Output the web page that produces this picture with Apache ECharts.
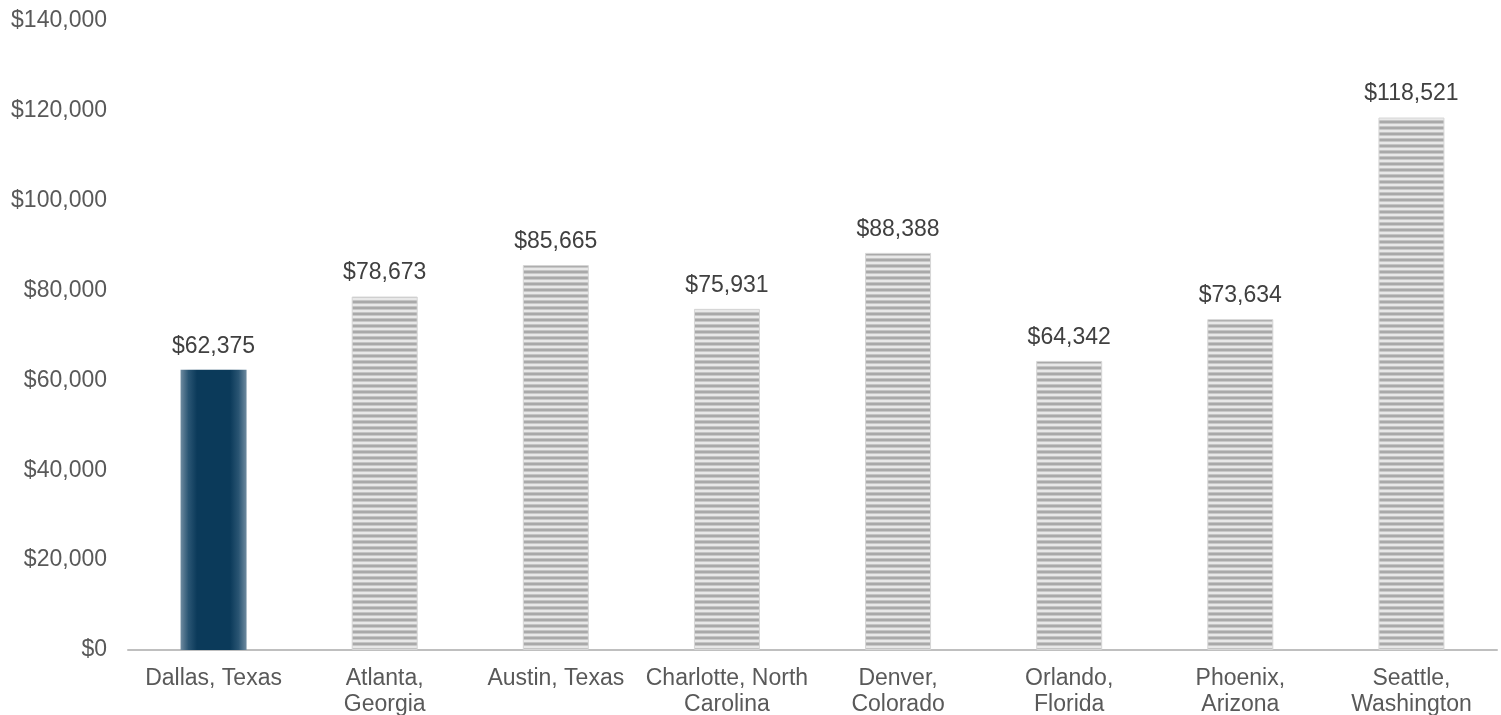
<!DOCTYPE html>
<html>
<head>
<meta charset="utf-8">
<script src="https://cdn.jsdelivr.net/npm/echarts@6/dist/echarts.min.js"></script>
<style>
html,body{margin:0;padding:0;background:#fff;}
#chart{width:1501px;height:715px;}
</style>
</head>
<body>
<div id="chart"></div>
<script>
const categories = ["Dallas, Texas", "Atlanta,\nGeorgia", "Austin, Texas", "Charlotte, North\nCarolina", "Denver,\nColorado", "Orlando,\nFlorida", "Phoenix,\nArizona", "Seattle,\nWashington"];
const values = [62375, 78673, 85665, 75931, 88388, 64342, 73634, 118521];
const highlightIndex = 0;

// stripe pattern
const pat = document.createElement('canvas');
pat.width = 8; pat.height = 6;
const pc = pat.getContext('2d');
pc.fillStyle = '#e8e8e8'; pc.fillRect(0,0,8,6);
pc.fillStyle = '#c4c4c4'; pc.fillRect(0,0,8,1);
pc.fillStyle = '#a9a9a9'; pc.fillRect(0,1,8,2);
pc.fillStyle = '#c8c8c8'; pc.fillRect(0,3,8,1);

const dallasColor = {
  type: 'linear', x: 0, y: 0, x2: 1, y2: 0,
  colorStops: [
    {offset: 0, color: '#6f8ba0'},
    {offset: 0.12, color: '#2a5573'},
    {offset: 0.25, color: '#0b3a5a'},
    {offset: 0.75, color: '#0b3a5a'},
    {offset: 0.88, color: '#2a5573'},
    {offset: 1, color: '#6f8ba0'}
  ]
};

const data = values.map((v, i) => ({
  value: v,
  itemStyle: i === highlightIndex ? {color: dallasColor} : {color: {image: pat, repeat: 'repeat'}, borderColor: '#d6d6d6', borderWidth: 1}
}));

const chart = echarts.init(document.getElementById('chart'));
chart.setOption({
  animation: false,
  textStyle: {fontFamily: 'Liberation Sans, Arial, sans-serif'},
  grid: {left: 128, right: 4, top: 21, bottom: 65, containLabel: false, outerBoundsMode: 'none'},
  xAxis: {
    type: 'category',
    data: categories,
    axisLine: {lineStyle: {color: '#bfbfbf', width: 2}},
    axisTick: {show: false},
    axisLabel: {color: '#595959', fontSize: 23, lineHeight: 26, margin: 16, interval: 0}
  },
  yAxis: {
    type: 'value',
    min: 0, max: 140000, interval: 20000,
    splitLine: {show: false},
    axisLine: {show: false},
    axisTick: {show: false},
    axisLabel: {
      color: '#595959', fontSize: 23, margin: 21,
      formatter: v => '$' + v.toLocaleString('en-US')
    }
  },
  series: [{
    type: 'bar',
    data: data,
    barWidth: 66,
    label: {
      show: true, position: 'top', distance: 12,
      color: '#404040', fontSize: 23,
      formatter: p => '$' + p.value.toLocaleString('en-US')
    }
  }]
});
</script>
</body>
</html>
